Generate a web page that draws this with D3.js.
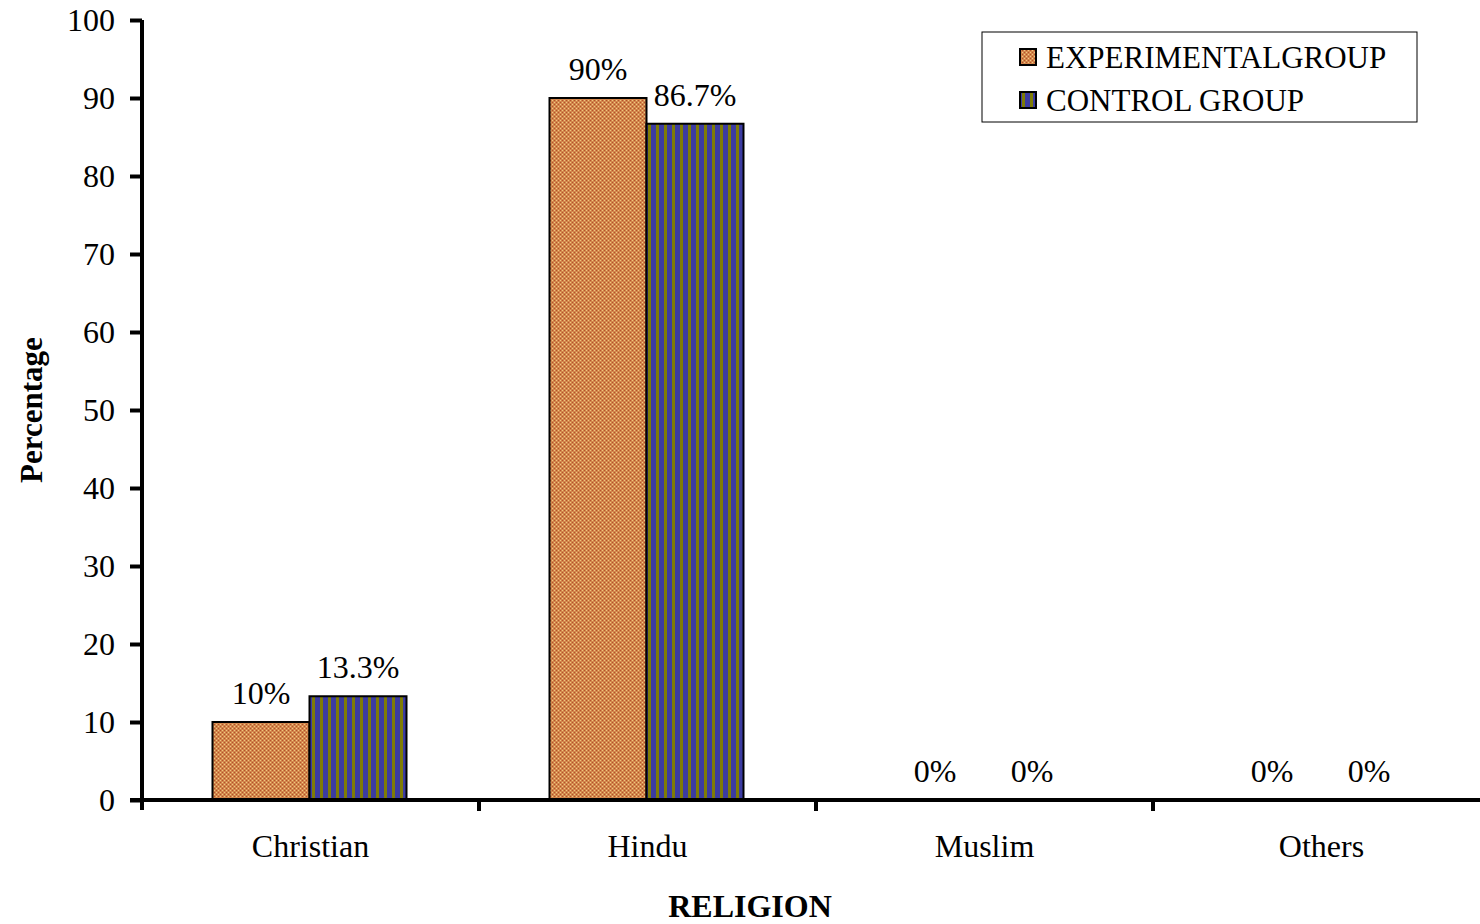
<!DOCTYPE html>
<html><head><meta charset="utf-8">
<script src="https://cdn.jsdelivr.net/npm/d3@7"></script>
<style>body{margin:0;background:#fff}svg{display:block}</style>
</head><body>
<svg id="c" width="1480" height="924"></svg>
<script>
const categories = ["Christian", "Hindu", "Muslim", "Others"];
const seriesNames = ["EXPERIMENTALGROUP", "CONTROL GROUP"];
const experimental = [10, 90, 0, 0];
const control = [13.3, 86.7, 0, 0];
const expLabels = ["10%", "90%", "0%", "0%"];
const ctrlLabels = ["13.3%", "86.7%", "0%", "0%"];
const yTicks = [0, 10, 20, 30, 40, 50, 60, 70, 80, 90, 100];

(function () {
const svg = d3.select("#c");
const font = "'Liberation Serif','Times New Roman',serif";
const defs = svg.append("defs");

const p1 = defs.append("pattern").attr("id", "pExp").attr("patternUnits", "userSpaceOnUse")
  .attr("width", 4).attr("height", 4);
p1.append("rect").attr("width", 4).attr("height", 4).attr("fill", "#d2864c");
p1.append("rect").attr("x", 0).attr("y", 0).attr("width", 1).attr("height", 1).attr("fill", "#f0c880");
p1.append("rect").attr("x", 2).attr("y", 2).attr("width", 1).attr("height", 1).attr("fill", "#f0c880");
p1.append("rect").attr("x", 2).attr("y", 0).attr("width", 1).attr("height", 1).attr("fill", "#b4502a");
p1.append("rect").attr("x", 0).attr("y", 2).attr("width", 1).attr("height", 1).attr("fill", "#b4502a");

const p2 = defs.append("pattern").attr("id", "pCtrl").attr("patternUnits", "userSpaceOnUse")
  .attr("width", 8).attr("height", 8);
p2.append("rect").attr("width", 8).attr("height", 8).attr("fill", "#3c3ca2");
p2.append("rect").attr("x", 0).attr("width", 3).attr("height", 8).attr("fill", "#7f7c06");

const mLeft = 142, mRight = 1490, mTop = 20, mBottom = 800;
const x0 = d3.scaleBand().domain(categories).range([mLeft, mRight]).padding(0);
const x1 = d3.scaleBand().domain(seriesNames).range([70.5, 70.5 + 194]).padding(0);
const y = d3.scaleLinear().domain([0, 100]).range([mBottom, mTop]);

const series = [
  {name: seriesNames[0], values: experimental, labels: expLabels, fill: "url(#pExp)"},
  {name: seriesNames[1], values: control, labels: ctrlLabels, fill: "url(#pCtrl)"}
];

const g = svg.append("g");
series.forEach(s => {
  categories.forEach((c, i) => {
    const v = s.values[i];
    const bx = x0(c) + x1(s.name);
    if (v > 0) {
      g.append("rect").attr("x", bx).attr("y", y(v)).attr("width", x1.bandwidth())
        .attr("height", y(0) - y(v)).attr("fill", s.fill).attr("stroke", "#000").attr("stroke-width", 2);
    }
    g.append("text").attr("x", bx + x1.bandwidth() / 2).attr("y", y(v) - 18)
      .attr("text-anchor", "middle").attr("font-family", font).attr("font-size", 32)
      .attr("fill", "#000").text(s.labels[i]);
  });
});

const yAxis = d3.axisLeft(y).tickValues(yTicks).tickSize(12).tickPadding(15);
const ya = svg.append("g").attr("transform", `translate(${mLeft},0)`).call(yAxis);
ya.select(".domain").attr("stroke-width", 4).attr("d", `M0,${mTop}V${mBottom + 10}`);
ya.selectAll(".tick line").attr("stroke-width", 4);
ya.selectAll(".tick text").attr("font-family", font).attr("font-size", 32).attr("fill", "#000");

const xa = svg.append("g").attr("transform", `translate(0,${mBottom})`);
xa.append("line").attr("x1", mLeft - 12).attr("x2", 1480).attr("y1", 0).attr("y2", 0)
  .attr("stroke", "#000").attr("stroke-width", 4);
categories.forEach((c, i) => {
  const tx = x0(c) + x0.bandwidth();
  xa.append("line").attr("x1", tx).attr("x2", tx).attr("y1", 0).attr("y2", 11)
    .attr("stroke", "#000").attr("stroke-width", 4);
  xa.append("text").attr("x", x0(c) + x0.bandwidth() / 2).attr("y", 57)
    .attr("text-anchor", "middle").attr("font-family", font).attr("font-size", 32).text(c);
});

svg.append("text").attr("transform", "translate(42,410) rotate(-90)").attr("text-anchor", "middle")
  .attr("font-family", font).attr("font-size", 31).attr("font-weight", "bold").text("Percentage");
svg.append("text").attr("x", 750).attr("y", 917).attr("text-anchor", "middle")
  .attr("font-family", font).attr("font-size", 32).attr("font-weight", "bold").text("RELIGION");

const lg = svg.append("g").attr("transform", "translate(982,32)");
lg.append("rect").attr("width", 435).attr("height", 90).attr("fill", "#fff")
  .attr("stroke", "#000").attr("stroke-width", 1);
series.forEach((s, i) => {
  const ly = 25 + i * 43;
  lg.append("rect").attr("x", 38).attr("y", ly - 8).attr("width", 16).attr("height", 16)
    .attr("fill", s.fill).attr("stroke", "#000").attr("stroke-width", 2);
  lg.append("text").attr("x", 64).attr("y", ly + 11).attr("font-family", font)
    .attr("font-size", 31).text(s.name);
});
})();
</script>
</body></html>
